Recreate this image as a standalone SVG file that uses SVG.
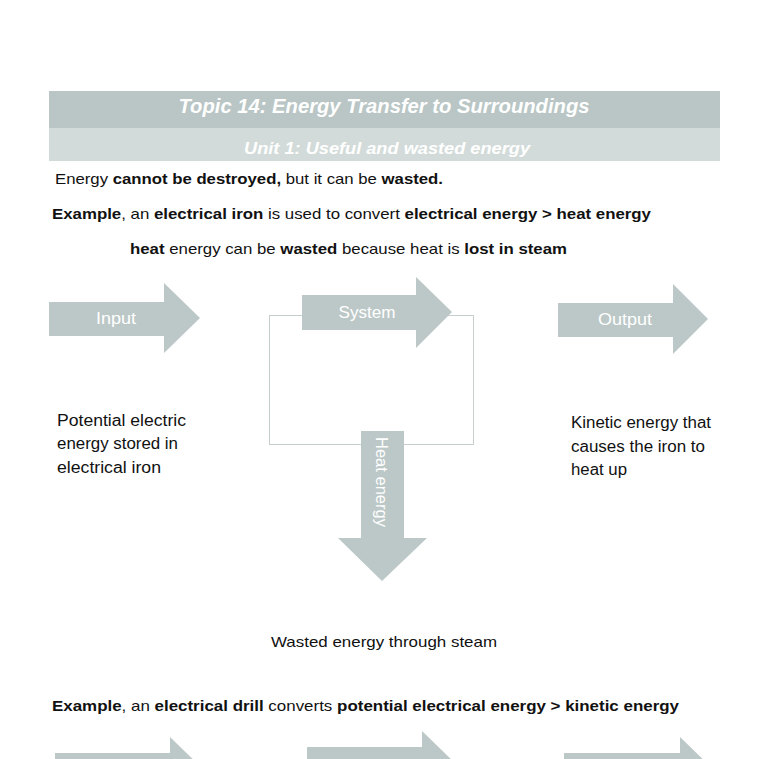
<svg xmlns="http://www.w3.org/2000/svg" width="759" height="759" viewBox="0 0 759 759">
<style>
.t{font-family:"Liberation Sans",Arial,sans-serif;font-size:15px;fill:#111}
.s{font-size:16px}
.b{font-weight:bold}
.hd{font-family:"Liberation Sans",Arial,sans-serif;font-weight:bold;font-style:italic;fill:#fff;text-anchor:middle}
.arr{fill:#bcc8c7}
.lbl{font-family:"Liberation Sans",Arial,sans-serif;font-size:16.5px;fill:#fff;text-anchor:middle}
</style>
<rect width="759" height="759" fill="#fff"/>
<g id="header">
<rect x="49" y="91" width="671" height="37" fill="#b9c6c5"/>
<rect x="49" y="128" width="671" height="33" fill="#d2dbd9"/>
<text class="hd" x="384" y="113" font-size="20" textLength="411" lengthAdjust="spacingAndGlyphs">Topic 14: Energy Transfer to Surroundings</text>
<text class="hd" x="387" y="154" font-size="17" textLength="286" lengthAdjust="spacingAndGlyphs">Unit 1: Useful and wasted energy</text>
</g>
<g id="intro">
<text class="t" x="55" y="184" textLength="388" lengthAdjust="spacingAndGlyphs">Energy <tspan class="b">cannot be destroyed,</tspan> but it can be <tspan class="b">wasted.</tspan></text>
<text class="t" x="52" y="219" textLength="599" lengthAdjust="spacingAndGlyphs"><tspan class="b">Example</tspan>, an <tspan class="b">electrical iron</tspan> is used to convert <tspan class="b">electrical energy &gt; heat energy</tspan></text>
<text class="t" x="130" y="254" textLength="437" lengthAdjust="spacingAndGlyphs"><tspan class="b">heat</tspan> energy can be <tspan class="b">wasted</tspan> because heat is <tspan class="b">lost in steam</tspan></text>
</g>
<g id="connectors">
<rect x="269.5" y="315.5" width="204" height="129" fill="none" stroke="#c4cfce" stroke-width="1"/>
</g>
<g id="input">
<polygon class="arr" points="49,302 164,302 164,283 200,318 164,353 164,336 49,336"/>
<text class="lbl" x="116" y="324" textLength="40" lengthAdjust="spacingAndGlyphs">Input</text>
</g>
<g id="system">
<polygon class="arr" points="302,295 416,295 416,277 452,312 416,348 416,330 302,330"/>
<text class="lbl" x="367" y="318" textLength="57" lengthAdjust="spacingAndGlyphs">System</text>
</g>
<g id="output">
<polygon class="arr" points="558,303 673,303 673,284 708,319 673,354 673,337 558,337"/>
<text class="lbl" x="625" y="325" textLength="54" lengthAdjust="spacingAndGlyphs">Output</text>
</g>
<g id="heat">
<polygon class="arr" points="361,431 404,431 404,538 427,538 382,581 338,538 361,538"/>
<text class="lbl" transform="translate(376,482) rotate(90)" textLength="90" lengthAdjust="spacingAndGlyphs">Heat energy</text>
</g>
<g id="labels">
<text class="t s" x="57" y="426" textLength="129" lengthAdjust="spacingAndGlyphs">Potential electric</text>
<text class="t s" x="57" y="449" textLength="121" lengthAdjust="spacingAndGlyphs">energy stored in</text>
<text class="t s" x="57" y="473" textLength="104" lengthAdjust="spacingAndGlyphs">electrical iron</text>
<text class="t s" x="571" y="428" textLength="140" lengthAdjust="spacingAndGlyphs">Kinetic energy that</text>
<text class="t s" x="571" y="452" textLength="134" lengthAdjust="spacingAndGlyphs">causes the iron to</text>
<text class="t s" x="571" y="475" textLength="56" lengthAdjust="spacingAndGlyphs">heat up</text>
<text class="t" x="271" y="647" textLength="226" lengthAdjust="spacingAndGlyphs">Wasted energy through steam</text>
</g>
<g id="example2">
<text class="t" x="52" y="711" textLength="627" lengthAdjust="spacingAndGlyphs"><tspan class="b">Example</tspan>, an <tspan class="b">electrical drill</tspan> converts <tspan class="b">potential electrical energy &gt; kinetic energy</tspan></text>
</g>
<g id="input2">
<polygon class="arr" points="55,753 170,753 170,737 206,772 170,807 170,787 55,787"/>
</g>
<g id="system2">
<polygon class="arr" points="307,747 422,747 422,731 458,766 422,801 422,781 307,781"/>
</g>
<g id="output2">
<polygon class="arr" points="564,753 680,753 680,737 716,772 680,807 680,787 564,787"/>
</g>
</svg>
